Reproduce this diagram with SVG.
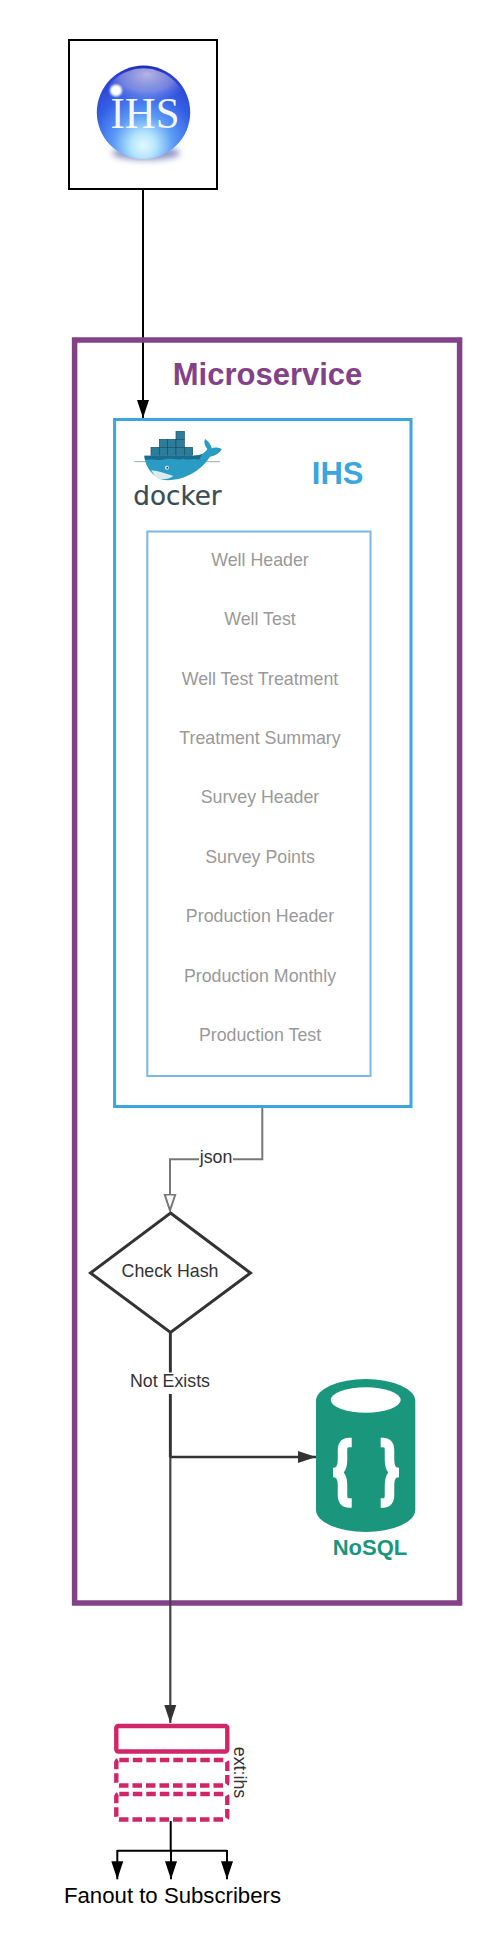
<svg xmlns="http://www.w3.org/2000/svg" width="500" height="1951" viewBox="0 0 500 1951">
<style>
text{font-family:"Liberation Sans",Arial,sans-serif}
.item{font-size:17.8px;fill:#999;text-anchor:middle}
.lbl{font-size:17.8px;fill:#333;text-anchor:middle}
.dash{fill:none;stroke:#cf2669;stroke-width:4.4;stroke-dasharray:9.5 4}
.k{fill:none;stroke:#000;stroke-width:2}
.g{fill:none;stroke:#777;stroke-width:2}
.d{fill:none;stroke:#333;stroke-width:2.5}
.c{fill:#2b7d9c;stroke:#1c4d63;stroke-width:2}
</style>
<defs>
<marker id="ak" markerUnits="userSpaceOnUse" markerWidth="18" markerHeight="14" refX="18" refY="7" orient="auto"><path d="M0,1 18,7 0,13Z" fill="#000"/></marker>
<marker id="ad" markerUnits="userSpaceOnUse" markerWidth="18" markerHeight="14" refX="18" refY="7" orient="auto"><path d="M0,1 18,7 0,13Z" fill="#333"/></marker>
<marker id="ah" markerUnits="userSpaceOnUse" markerWidth="18" markerHeight="14" refX="17" refY="7" orient="auto"><path d="M1,1.7 17,7 1,12.3Z" fill="#fff" stroke="#777" stroke-width="2"/></marker>
<radialGradient id="ball" cx=".5" cy=".82" r=".88" fx=".5" fy=".86">
<stop offset="0" stop-color="#e2f9ff"/><stop offset=".15" stop-color="#b5e6fd"/><stop offset=".36" stop-color="#5c9cf5"/><stop offset=".62" stop-color="#3560e6"/><stop offset=".88" stop-color="#2a3fd0"/><stop offset="1" stop-color="#10108c"/>
</radialGradient>
<radialGradient id="gloss" cx=".5" cy=".3" r=".6"><stop offset="0" stop-color="#d8d2e4" stop-opacity=".8"/><stop offset=".6" stop-color="#b9b6e4" stop-opacity=".5"/><stop offset="1" stop-color="#6f86ee" stop-opacity="0"/></radialGradient>
<clipPath id="ballclip"><circle cx="143.5" cy="112.3" r="44"/></clipPath>
<filter id="b3" x="-50%" y="-50%" width="200%" height="200%"><feGaussianBlur stdDeviation="3"/></filter>
<filter id="b1" x="-50%" y="-50%" width="200%" height="200%"><feGaussianBlur stdDeviation="1"/></filter>
</defs>

<g id="connector-source">
<path class="k" d="M143,189V418" marker-end="url(#ak)"/>
</g>

<g id="microservice">
<rect x="74.6" y="340" width="385" height="1263" fill="none" stroke="#834187" stroke-width="5.5"/>
<text x="267.5" y="385" font-size="31" font-weight="700" text-anchor="middle" fill="#834187">Microservice</text>
</g>

<g id="source-ihs">
<rect x="69" y="40" width="148" height="149" fill="#fff" stroke="#000" stroke-width="2"/>
<ellipse cx="146" cy="153" rx="34" ry="7" fill="#8d94c4" filter="url(#b3)"/>
<circle cx="143.5" cy="112.3" r="46.7" fill="url(#ball)"/>
<g clip-path="url(#ballclip)"><ellipse cx="147" cy="84" rx="38" ry="24" fill="url(#gloss)"/></g>
<circle cx="116" cy="90.5" r="6" fill="#fff" filter="url(#b1)"/>
<text x="145" y="128.3" font-size="44" textLength="69" lengthAdjust="spacingAndGlyphs" text-anchor="middle" fill="#fff" fill-opacity=".95" style="font-family:'Liberation Serif',serif">IHS</text>
</g>

<g id="ihs-service">
<rect x="114.6" y="419.5" width="296.4" height="687" fill="none" stroke="#3aa6dd" stroke-width="3"/>
<text x="337.7" y="483.5" font-size="31" font-weight="700" text-anchor="middle" fill="#3aa6dd">IHS</text>
<g id="docker-logo" transform="translate(125 425) scale(.33333)">
<path d="M28,110H285" stroke="#6b7f87" stroke-width="2" fill="none"/>
<rect class="c" x="153" y="19" width="25" height="24"/>
<rect class="c" x="103" y="43" width="25" height="24"/><rect class="c" x="128" y="43" width="25" height="24"/><rect class="c" x="153" y="43" width="25" height="24"/>
<rect class="c" x="78" y="67" width="25" height="24"/><rect class="c" x="103" y="67" width="25" height="24"/><rect class="c" x="128" y="67" width="25" height="24"/><rect class="c" x="153" y="67" width="25" height="24"/><rect class="c" x="178" y="67" width="25" height="24"/>
<path d="M58,92H205C225,92 240,85 247,72C238,60 236,50 240,42C250,48 258,58 260,70C270,66 282,68 290,72C285,85 270,92 255,95C235,125 205,150 160,162C130,168 105,167 90,152C70,137 60,115 58,92Z" fill="#2a9cc4"/>
<path d="M58,92H205C215,92 225,90 232,87L222,104C205,98 195,108 175,101C155,108 140,98 120,103C100,108 85,100 60,105Z" fill="#1b6d8f"/>
<path d="M78,136C100,138 125,146 145,153C125,166 103,167 90,152Z" fill="#dcebf0"/>
<circle cx="126" cy="128" r="6" fill="#e8f3f6"/><circle cx="127" cy="128" r="3" fill="#27424f"/>
<text x="25" y="240" font-size="79" textLength="265" lengthAdjust="spacingAndGlyphs" fill="#394d54" stroke="#394d54" stroke-width=".6" style="font-family:'DejaVu Sans',sans-serif">docker</text>
</g>
</g>

<g id="tables">
<rect x="147.3" y="531.5" width="223.2" height="544.5" fill="none" stroke="#7ab8e6" stroke-width="2"/>
<text class="item" x="260" y="565.7">Well Header</text>
<text class="item" x="260" y="625.1">Well Test</text>
<text class="item" x="260" y="684.5">Well Test Treatment</text>
<text class="item" x="260" y="743.9">Treatment Summary</text>
<text class="item" x="260" y="803.3">Survey Header</text>
<text class="item" x="260" y="862.7">Survey Points</text>
<text class="item" x="260" y="922.1">Production Header</text>
<text class="item" x="260" y="981.5">Production Monthly</text>
<text class="item" x="260" y="1040.9">Production Test</text>
</g>

<g id="connectors">
<path class="g" d="M262.3,1108V1159.3H170V1210.5" marker-end="url(#ah)"/>
<rect x="199" y="1148" width="34" height="24" fill="#fff"/>
<text class="lbl" x="216" y="1162.7">json</text>
<path d="M170.3,1333V1723" fill="none" stroke="#444" stroke-width="2.2" marker-end="url(#ad)"/>
<path d="M170.3,1333V1457" fill="none" stroke="#333" stroke-width="2.8"/>
<path class="d" d="M170.3,1457H316" marker-end="url(#ad)"/>
<rect x="130" y="1372.5" width="81" height="21.5" fill="#fff"/>
<text class="lbl" x="170" y="1387.3">Not Exists</text>
<path class="k" d="M170.7,1821V1850.7M117.3,1850.7H227"/>
<path class="k" d="M117.3,1850V1879.3" marker-end="url(#ak)"/>
<path class="k" d="M171,1850V1879.3" marker-end="url(#ak)"/>
<path class="k" d="M227,1850V1879.3" marker-end="url(#ak)"/>
</g>

<g id="check-hash">
<path d="M170.5,1213 250.5,1273 170.5,1332.5 90.5,1273Z" fill="#fff" stroke="#333" stroke-width="3"/>
<text class="lbl" x="170" y="1276.7">Check Hash</text>
</g>

<g id="nosql">
<path d="M316,1401A49.65,22 0 0 1 415.3,1401V1510A49.65,22 0 0 1 316,1510Z" fill="#1a967c"/>
<ellipse cx="365.7" cy="1400" rx="35" ry="12.7" fill="#fff"/>
<path d="M351.7,1442.5H349Q342.5,1442.5 342.5,1450V1460Q342.5,1472.5 333,1472.5Q342.5,1472.5 342.5,1485V1495Q342.5,1503 349,1503H351.7" fill="none" stroke="#fff" stroke-width="9.5"/>
<path d="M380.7,1442.5H383Q389.5,1442.5 389.5,1450V1460Q389.5,1472.5 399,1472.5Q389.5,1472.5 389.5,1485V1495Q389.5,1503 383,1503H380.7" fill="none" stroke="#fff" stroke-width="9.5"/>
<text x="370" y="1555" font-size="22" font-weight="700" text-anchor="middle" fill="#1a967c">NoSQL</text>
</g>

<g id="queue">
<rect x="116.3" y="1726" width="111" height="25.5" rx="2" fill="#fff" stroke="#cf2669" stroke-width="4.4"/>
<rect class="dash" x="116.3" y="1760" width="111" height="25.5" rx="3"/>
<rect class="dash" x="116.3" y="1794" width="111" height="25.5" rx="3"/>
<text class="lbl" transform="translate(234 1772.5) rotate(90)">ext:ihs</text>
</g>

<g id="fanout">
<text x="172.5" y="1903" font-size="22.2" text-anchor="middle" fill="#000">Fanout to Subscribers</text>
</g>
</svg>
